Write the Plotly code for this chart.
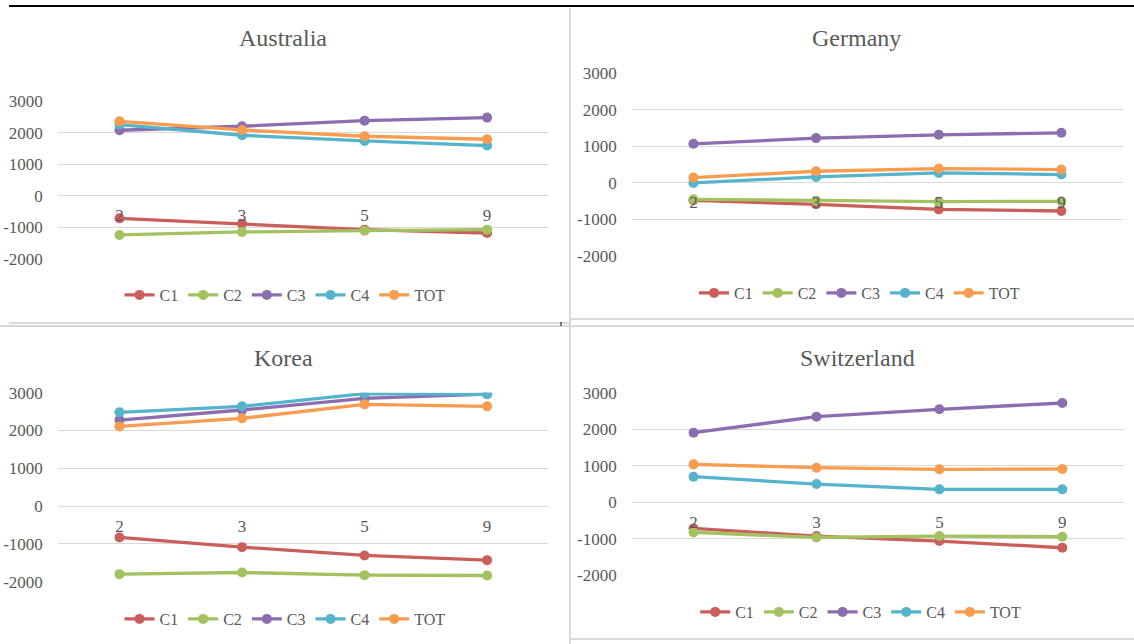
import plotly.graph_objects as go

W, H = 1134, 644

categories = ["2", "3", "5", "9"]
series_names = ["C1", "C2", "C3", "C4", "TOT"]
colors = ["#CA5E5A", "#A2C15F", "#8C6DAF", "#55B3CC", "#F89C50"]

y_tickvals = [-2000, -1000, 0, 1000, 2000, 3000]
y_ticktext = ["-2000", "-1000", "0", "1000", "2000", "3000"]

australia_C1 = [-718, -887, -1077, -1183]
australia_C2 = [-1246, -1151, -1109, -1077]
australia_C3 = [2080, 2207, 2386, 2482]
australia_C4 = [2260, 1922, 1742, 1595]
australia_TOT = [2365, 2090, 1890, 1795]

germany_C1 = [-476, -586, -723, -769]
germany_C2 = [-448, -485, -512, -503]
germany_C3 = [1070, 1226, 1317, 1372]
germany_C4 = [0, 165, 274, 229]
germany_TOT = [146, 320, 393, 366]

korea_C1 = [-830, -1086, -1306, -1430]
korea_C2 = [-1800, -1756, -1827, -1836]
korea_C3 = [2277, 2542, 2851, 2966]
korea_C4 = [2480, 2639, 2974, 2957]
korea_TOT = [2109, 2321, 2692, 2639]

switzerland_C1 = [-714, -924, -1061, -1244]
switzerland_C2 = [-823, -961, -924, -942]
switzerland_C3 = [1912, 2351, 2553, 2726]
switzerland_C4 = [704, 503, 357, 357]
switzerland_TOT = [1043, 951, 906, 915]

panels = [
    ("Australia", [australia_C1, australia_C2, australia_C3, australia_C4, australia_TOT]),
    ("Germany", [germany_C1, germany_C2, germany_C3, germany_C4, germany_TOT]),
    ("Korea", [korea_C1, korea_C2, korea_C3, korea_C4, korea_TOT]),
    ("Switzerland", [switzerland_C1, switzerland_C2, switzerland_C3, switzerland_C4, switzerland_TOT]),
]

def px(x):
    return x / W

def py(y):
    return 1 - y / H

# layout geometry in pixels: (x0, x1, y_top(3000), y_bottom(-2000), title_x, title_y, legend_x, legend_y)
geom = [
    (58.2, 548.4, 101.3, 258.7, 282.5, 38, 285, 295),
    (632.1, 1122.7, 73.3, 256.0, 856.7, 38, 859.5, 293),
    (58.2, 548.4, 392.7, 581.7, 283, 358, 285, 619),
    (632.1, 1123.8, 393.0, 575.3, 857, 358, 860.7, 612),
]

FONT = "Liberation Serif"
GRAY = "#595959"

fig = go.Figure()
layout = dict(
    width=W, height=H,
    margin=dict(l=0, r=0, t=0, b=0, pad=0, autoexpand=False),
    paper_bgcolor="white", plot_bgcolor="white",
    font=dict(family=FONT, color=GRAY, size=16),
    annotations=[], shapes=[],
)

for i, (name, data) in enumerate(panels):
    n = i + 1
    sfx = "" if n == 1 else str(n)
    x0, x1, yt, yb, tx, ty, lx, ly = geom[i]
    ydom = [py(yb), py(yt)]
    zero_pos = ydom[0] + (0 - (-2000)) / 5000 * (ydom[1] - ydom[0])
    legname = "legend" + sfx
    for j, sname in enumerate(series_names):
        fig.add_trace(go.Scatter(
            x=categories, y=data[j], name=sname, mode="lines+markers",
            line=dict(color=colors[j], width=3.3),
            marker=dict(color=colors[j], size=10),
            xaxis="x" + sfx, yaxis="y" + sfx, legend=legname,
            hoverinfo="skip",
        ))
    layout["xaxis" + sfx] = dict(
        domain=[px(x0), px(x1)], type="category", categoryorder="array",
        categoryarray=categories, range=[-0.5, 3.5],
        anchor="free", position=zero_pos,
        showgrid=False, zeroline=False, showline=False,
        ticks="outside", ticklen=4, tickcolor="rgba(0,0,0,0)",
        tickfont=dict(family=FONT, color=GRAY, size=17),
        fixedrange=True, automargin=False,
    )
    layout["yaxis" + sfx] = dict(
        domain=ydom, range=[-2000, 3000], anchor="x" + sfx,
        tickmode="array", tickvals=y_tickvals, ticktext=y_ticktext,
        showgrid=True, gridcolor="#D9D9D9", gridwidth=1,
        zeroline=False, showline=False,
        ticks="outside", ticklen=11, tickcolor="rgba(0,0,0,0)",
        tickfont=dict(family=FONT, color=GRAY, size=17),
        fixedrange=True, automargin=False,
    )
    layout[legname] = dict(
        orientation="h", x=px(lx), y=py(ly), xanchor="center", yanchor="middle",
        font=dict(family=FONT, color=GRAY, size=16), bgcolor="rgba(0,0,0,0)",
        itemwidth=30, tracegroupgap=0,
    )
    layout["annotations"].append(dict(
        text=name, x=px(tx), y=py(ty), xref="paper", yref="paper",
        showarrow=False, xanchor="center", yanchor="middle",
        font=dict(family=FONT, color=GRAY, size=24),
    ))

border = "#D9D9D9"
def hline(x0, x1, y, color=border, w=2):
    layout["shapes"].append(dict(type="line", xref="paper", yref="paper",
                                 x0=px(x0), x1=px(x1), y0=py(y), y1=py(y),
                                 line=dict(color=color, width=w)))
def vline(x, y0, y1, color=border, w=2):
    layout["shapes"].append(dict(type="line", xref="paper", yref="paper",
                                 x0=px(x), x1=px(x), y0=py(y0), y1=py(y1),
                                 line=dict(color=color, width=w)))

hline(9, 1134, 6, color="black", w=2)
hline(9, 570, 323)
hline(570, 1134, 319)
hline(0, 1134, 326)
hline(570, 1134, 639)
vline(570, 8, 644)
vline(561, 322, 326, color="black", w=1)

fig.update_layout(**layout)
fig.write_html("out.html")
